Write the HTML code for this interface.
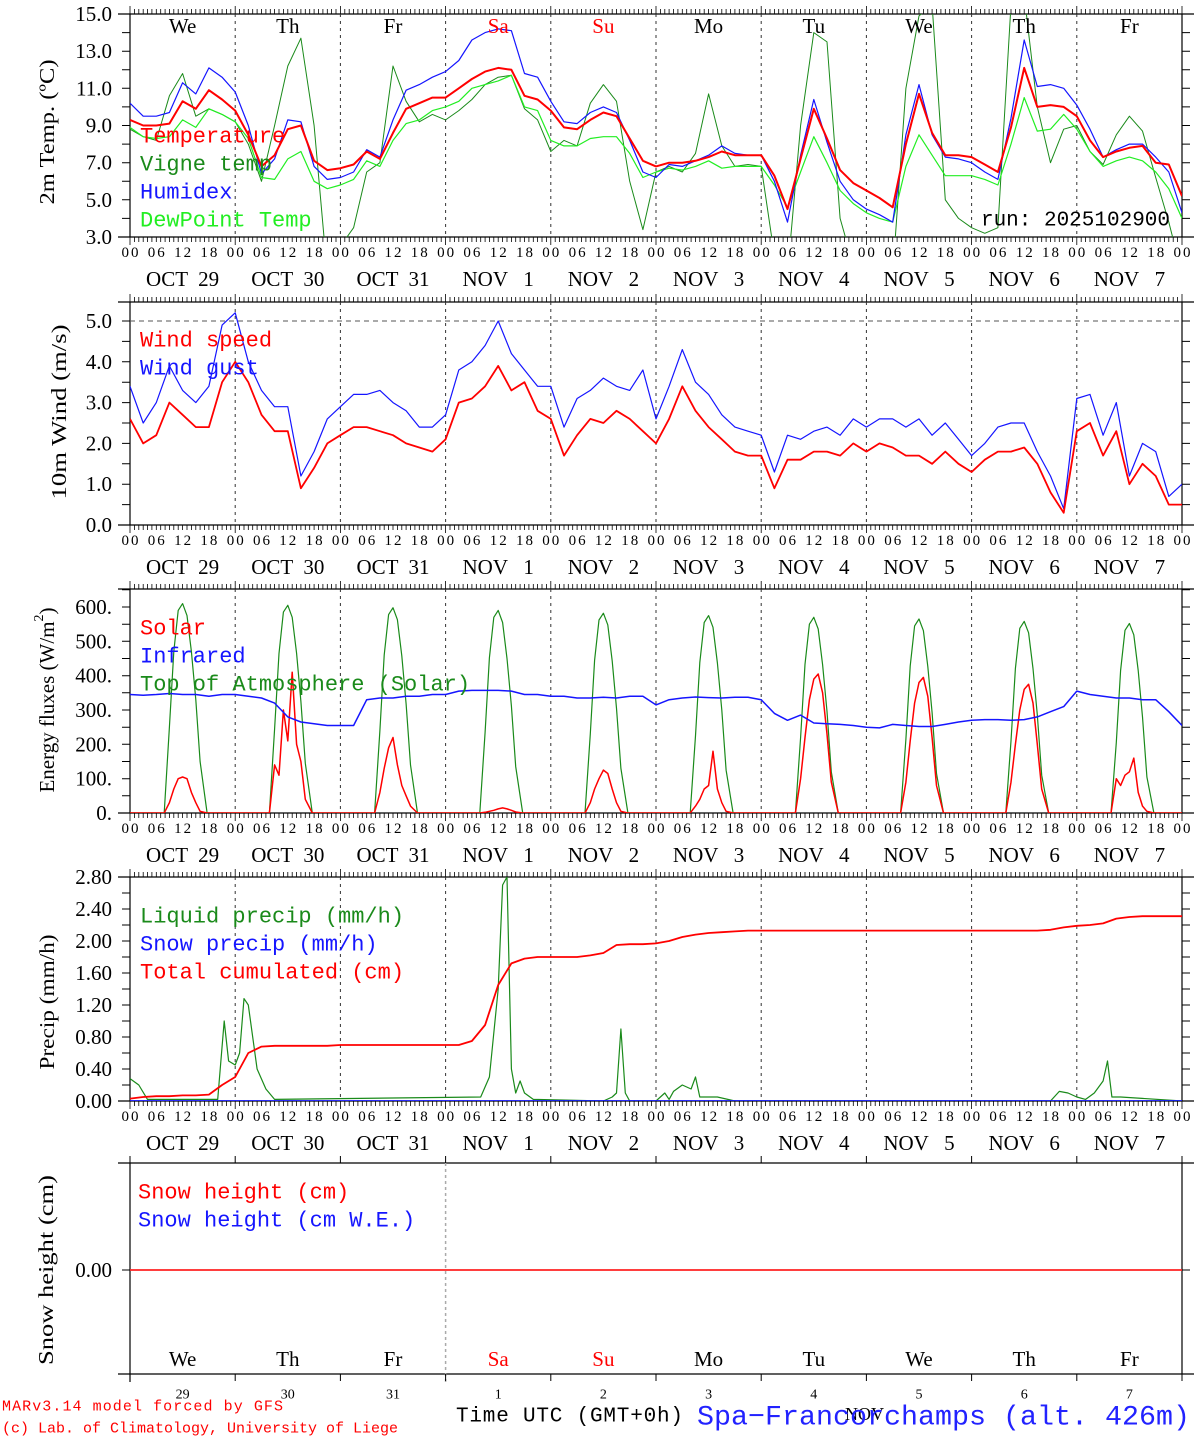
<!DOCTYPE html>
<html><head><meta charset="utf-8">
<style>
html,body{margin:0;padding:0;background:#fff;}
svg{display:block;}
text{font-family:"Liberation Serif",serif;}
.mono{font-family:"Liberation Mono","DejaVu Sans Mono",monospace;}
</style></head>
<body>
<svg id="chart" width="1194" height="1440" viewBox="0 0 1194 1440" xmlns="http://www.w3.org/2000/svg"></svg>
<script>
// ---- categories ----
const dayNames = ["We","Th","Fr","Sa","Su","Mo","Tu","We","Th","Fr"];
const dayColors = ["#000","#000","#000","#f00","#f00","#000","#000","#000","#000","#000"];
const dateLabels = ["OCT  29","OCT  30","OCT  31","NOV   1","NOV   2","NOV   3","NOV   4","NOV   5","NOV   6","NOV   7"];
const dayNums = ["29","30","31","1","2","3","4","5","6","7"];
const hourLabels = ["00","06","12","18"];
// 3-hourly time axis (hours since start)
const hours3 = [];
for (let i = 0; i <= 80; i++) hours3.push(i * 3);

// ---- panel 1: temperatures (3-hourly) ----
const tempVals = [9.3,9.0,9.0,9.1,10.3,9.9,10.9,10.4, 9.8,8.5,6.8,7.4,8.8,9.0,7.1,6.6, 6.7,6.9,7.6,7.2,8.6,9.9,10.2,10.5, 10.5,11.0,11.5,11.9,12.1,12.0,10.6,10.4, 9.8,8.9,8.8,9.3,9.7,9.5,8.3,7.1, 6.8,7.0,7.0,7.1,7.3,7.6,7.4,7.4, 7.4,6.3,4.5,7.2,9.9,8.3,6.6,5.9, 5.5,5.1,4.6,8.0,10.7,8.6,7.4,7.4, 7.3,6.9,6.5,8.9,12.1,10.0,10.1,10.0, 9.5,8.2,7.3,7.6,7.8,7.9,7.0,6.9,5.2];
const humidexVals = [10.2,9.5,9.5,9.7,11.3,10.7,12.1,11.6, 10.8,9.0,6.4,7.2,9.3,9.2,6.8,6.1, 6.2,6.5,7.7,7.3,9.3,10.9,11.2,11.6, 11.9,12.5,13.6,14.0,14.2,14.1,11.8,11.6, 10.3,9.2,9.1,9.7,10.0,9.7,8.2,6.5, 6.2,6.9,6.8,7.1,7.4,7.9,7.5,7.4, 7.4,6.0,3.8,7.4,10.4,8.1,6.0,5.0, 4.5,4.2,3.8,8.5,11.2,8.5,7.3,7.2, 7.0,6.5,6.1,9.4,13.6,11.1,11.2,11.0, 10.1,8.8,7.3,7.7,8.0,8.0,7.3,6.5,4.3];
const dewVals = [8.9,8.4,8.3,8.4,9.3,8.9,9.9,9.6, 9.2,8.3,6.2,6.1,7.2,7.6,6.0,5.6, 5.8,6.1,7.1,6.8,8.2,9.1,9.3,9.8, 10.0,10.3,11.0,11.2,11.4,11.7,10.0,9.8, 8.2,7.9,7.9,8.3,8.4,8.4,7.5,6.2, 6.5,6.7,6.6,6.8,7.1,6.7,6.8,6.8, 6.8,5.8,4.6,6.5,8.4,7.0,5.5,4.8, 4.3,4.0,3.8,6.8,8.5,7.4,6.3,6.3, 6.3,6.1,5.8,8.0,10.5,8.7,8.8,9.6, 8.8,7.6,6.8,7.1,7.3,7.1,6.5,5.6,4.0];
const vigneVals = [8.8,8.4,8.2,10.6,11.8,9.5,9.9,9.6, 9.2,8.0,6.0,9.0,12.2,13.7,9.0,1.0, 2.5,3.5,6.5,7.0,12.2,10.3,9.2,9.6, 9.3,9.8,10.4,11.2,11.6,11.7,9.9,9.3, 7.6,8.2,7.9,10.2,11.2,10.3,6.0,3.4, 6.5,6.8,6.5,7.5,10.7,7.9,6.8,6.9, 6.8,2.0,1.0,9.0,14.0,13.5,4.0,1.5, 1.0,0.5,1.0,11.0,14.9,15.5,5.0,4.0, 3.5,3.2,3.5,15.5,16.0,10.0,7.0,8.8, 9.0,7.6,6.9,8.5,9.5,8.7,6.2,3.8,1.0];
const p1Ticks = ["3.0","5.0","7.0","9.0","11.0","13.0","15.0"];

// ---- panel 2: wind (3-hourly) ----
const windVals = [2.6,2.0,2.2,3.0,2.7,2.4,2.4,3.5, 4.0,3.5,2.7,2.3,2.3,0.9,1.4,2.0, 2.2,2.4,2.4,2.3,2.2,2.0,1.9,1.8, 2.1,3.0,3.1,3.4,3.9,3.3,3.5,2.8, 2.6,1.7,2.2,2.6,2.5,2.8,2.6,2.3, 2.0,2.6,3.4,2.8,2.4,2.1,1.8,1.7, 1.7,0.9,1.6,1.6,1.8,1.8,1.7,2.0, 1.8,2.0,1.9,1.7,1.7,1.5,1.8,1.5, 1.3,1.6,1.8,1.8,1.9,1.5,0.8,0.3, 2.3,2.5,1.7,2.3,1.0,1.5,1.2,0.5,0.5];
const gustVals = [3.4,2.5,3.0,3.9,3.3,3.0,3.4,4.9, 5.2,4.0,3.3,2.9,2.9,1.2,1.8,2.6, 2.9,3.2,3.2,3.3,3.0,2.8,2.4,2.4, 2.7,3.8,4.0,4.4,5.0,4.2,3.8,3.4, 3.4,2.4,3.1,3.3,3.6,3.4,3.3,3.8, 2.6,3.4,4.3,3.5,3.2,2.7,2.4,2.3, 2.2,1.3,2.2,2.1,2.3,2.4,2.2,2.6, 2.4,2.6,2.6,2.4,2.6,2.2,2.5,2.1, 1.7,2.0,2.4,2.5,2.5,1.8,1.2,0.4, 3.1,3.2,2.2,3.0,1.2,2.0,1.8,0.7,1.0];
const p2Ticks = ["0.0","1.0","2.0","3.0","4.0","5.0"];

// ---- panel 3: energy fluxes ----
const sunHours = [7.8,9,10,11,12,13,14,15,16,17.6]; // hours within each day
const toaVals = [
 [0,250,470,590,610,575,470,330,150,0],[0,245,465,585,605,570,465,325,145,0],[0,240,460,578,598,563,458,318,140,0],
 [0,235,452,570,590,555,450,312,135,0],[0,230,445,562,582,548,443,305,130,0],[0,225,438,555,575,541,437,300,125,0],
 [0,220,433,550,570,536,432,296,120,0],[0,215,428,545,565,531,427,292,115,0],[0,210,421,538,558,525,421,286,110,0],
 [0,205,415,532,552,519,415,280,105,0]];
const solarVals = [
 [0,30,70,100,105,100,60,30,5,0],[0,140,110,300,210,410,200,150,40,0],[0,60,130,190,220,140,80,50,20,0],
 [0,2,5,8,12,15,12,8,3,0],[0,30,70,100,125,115,70,30,5,0],[0,20,40,70,80,180,70,30,5,0],
 [0,100,220,330,390,405,350,230,90,0],[0,90,210,320,380,395,340,220,80,0],[0,90,200,300,360,375,320,200,70,0],
 [0,100,80,110,120,160,60,20,5,0]];
const irVals = [345,343,345,348,345,345,340,345, 345,340,335,320,280,265,260,255, 255,255,330,335,335,340,340,345, 345,355,357,357,357,355,345,345, 340,340,335,335,337,335,340,340, 315,330,335,338,336,335,337,337, 330,290,270,285,262,260,258,255, 250,248,258,255,252,252,258,265, 270,272,272,270,272,280,295,310, 355,345,340,335,335,330,330,295,255];
const p3Ticks = ["0.","100.","200.","300.","400.","500.","600."];

// ---- panel 4: precipitation ----
const cumVals = [0.03,0.05,0.06,0.06,0.07,0.07,0.08,0.2, 0.3,0.6,0.68,0.69,0.69,0.69,0.69,0.69, 0.7,0.7,0.7,0.7,0.7,0.7,0.7,0.7, 0.7,0.7,0.75,0.95,1.45,1.72,1.78,1.8, 1.8,1.8,1.8,1.82,1.85,1.95,1.96,1.96, 1.97,2.0,2.05,2.08,2.1,2.11,2.12,2.13, 2.13,2.13,2.13,2.13,2.13,2.13,2.13,2.13, 2.13,2.13,2.13,2.13,2.13,2.13,2.13,2.13, 2.13,2.13,2.13,2.13,2.13,2.13,2.14,2.17, 2.19,2.2,2.22,2.28,2.3,2.31,2.31,2.31,2.31];
const liqHours = [0,2,4,20,21.5,22.5,24,25,26,27,29,31,33,80,82,84,85,86,87,88,89,90,92,108,110,111,112,113,114,120,122,123,124,126,128,129,130,134,138,210,212,214,216,218,220,222,223,224,226,240];
const liqVals  = [0.28,0.2,0.02,0.02,1.0,0.5,0.45,0.6,1.28,1.2,0.4,0.15,0.02,0.05,0.3,1.4,2.7,2.8,0.4,0.1,0.25,0.1,0.02,0,0.05,0.1,0.9,0.1,0,0,0.1,0.02,0.12,0.2,0.15,0.3,0.05,0.05,0,0,0.12,0.1,0.05,0.02,0.1,0.25,0.5,0.05,0.05,0];
const snowHours = [0,240];
const snowVals = [0,0];
const p4Ticks = ["0.00","0.40","0.80","1.20","1.60","2.00","2.40","2.80"];

// ---- panel 5: snow height ----
const snowHVals = [0,0];

const svg = document.getElementById('chart');
const NS = 'http://www.w3.org/2000/svg';
const X0 = 130, X1 = 1182;
function xs(h){ return X0 + h * (X1 - X0) / 240; }
function mk(tag, attrs, parent){
  const e = document.createElementNS(NS, tag);
  for (const k in attrs) e.setAttribute(k, attrs[k]);
  (parent || svg).appendChild(e);
  return e;
}
function txt(s, x, y, size, color, anchor, cls, parent){
  const t = mk('text', {x:x, y:y, 'font-size':size, fill:color||'#000', 'text-anchor':anchor||'start', 'dominant-baseline':'central'}, parent);
  if (cls) t.setAttribute('class', cls);
  t.textContent = s;
  return t;
}

const panels = [
  {id:'temp', top:14, bot:237, y:v=>237-(v-3)*(223/12)},
  {id:'wind', top:302, bot:525, y:v=>525-v*40.8},
  {id:'flux', top:589, bot:813, y:v=>813-v*(206/600)},
  {id:'precip', top:877, bot:1101, y:v=>1101-v*80},
  {id:'snow', top:1163, bot:1374, y:v=>1270-v*100}
];

panels.forEach((p, pi) => {
  const g = mk('g', {});
  
  
  const cp = mk('clipPath', {id:'clip'+pi}, g);
  mk('rect', {x:X0, y:p.top, width:X1-X0, height:p.bot-p.top}, cp);
  p.g = g; p.clip = 'url(#clip'+pi+')';
  let d = `M${X0-12},${p.top}H${X1+12}M${X0-12},${p.bot}H${X1+12}M${X0},${p.top}V${p.bot+ (pi==4?8:0)}M${X1},${p.top}V${p.bot}`;
  const fr = mk('path', {d:d, stroke:'#000', 'stroke-width':1.2, fill:'none'}, g);
  
  
  if (pi < 4) {
    let td = '';
    for (let h = 0; h <= 240; h++) {
      const x = xs(h);
      const L = (h % 24 === 0) ? 8 : 5;
      td += `M${x.toFixed(1)},${p.top}v-${L}M${x.toFixed(1)},${p.bot}v${L}`;
    }
    mk('path', {d:td, stroke:'#000', 'stroke-width':0.8, fill:'none'}, g);
    let dd = '';
    for (let k = 1; k < 10; k++) dd += `M${xs(k*24).toFixed(1)},${p.top}V${p.bot}`;
    const dl = mk('path', {d:dd, stroke:'#333', 'stroke-width':1, 'stroke-dasharray':'3,4', fill:'none'}, g);
    
    
    for (let k = 0; k <= 40; k++) {
      const t = txt(hourLabels[k%4], xs(k*6), p.bot+16, 15, '#000', 'middle', null, g);
      t.setAttribute('textLength', 17);
      
      
    }
    dateLabels.forEach((s, k) => {
      const t = txt(s, xs(k*24+12), p.bot+42, 21, '#000', 'middle', null, g);
      t.style.whiteSpace = 'pre';
      
      
    });
  }
});

function yAxis(p, labels, vals, minorStep, vmin, vmax){
  let d = '';
  for (let v = vmin; v <= vmax + 1e-9; v += minorStep) {
    const y = p.y(v);
    if (y < p.top - 1) continue;
    d += `M${X0-8},${y.toFixed(1)}H${X0}M${X1},${y.toFixed(1)}H${X1+8}`;
  }
  mk('path', {d:d, stroke:'#000', 'stroke-width':1, fill:'none'}, p.g);
  labels.forEach((s, i) => {
    const t = txt(s, 112, p.y(vals[i]), 21, '#000', 'end', null, p.g);
    
    
  });
}
yAxis(panels[0], p1Ticks, [3,5,7,9,11,13,15], 1, 3, 15);
yAxis(panels[1], p2Ticks, [0,1,2,3,4,5], 0.5, 0, 5.5);
yAxis(panels[2], p3Ticks, [0,100,200,300,400,500,600], 50, 0, 650);
yAxis(panels[3], p4Ticks, [0,0.4,0.8,1.2,1.6,2.0,2.4,2.8], 0.2, 0, 2.8);
yAxis(panels[4], ["0.00"], [0], 1, 0, 0);

function ytitle(s, cx, cy, p, len){
  const t = txt(s, 0, 0, 21, '#000', 'middle', null, p.g);
  t.setAttribute('transform', `translate(${cx},${cy}) rotate(-90)`);
  if (len) { t.setAttribute('textLength', len); t.setAttribute('lengthAdjust', 'spacingAndGlyphs'); }
  
  
  return t;
}
ytitle('2m Temp. (\u00baC)', 47, 132, panels[0], 145);
ytitle('10m Wind (m/s)', 59, 412, panels[1], 175);
const et = ytitle('', 47, 700, panels[2], 0);
et.textContent = 'Energy fluxes (W/m';
const sup = mk('tspan', {'baseline-shift':'super','font-size':14}, et); sup.textContent = '2';
const cl = mk('tspan', {}, et); cl.textContent = ')';
ytitle('Precip (mm/h)', 47, 1002, panels[3], 135);
ytitle('Snow height (cm)', 46, 1270, panels[4], 190);

mk('path', {d:`M${X0},${panels[1].y(5)}H${X1}`, stroke:'#555', 'stroke-dasharray':'5,4', 'stroke-width':1}, panels[1].g);

function line(p, hrs, vals, color, w, name){
  let d = '';
  vals.forEach((v, i) => { d += (i ? 'L' : 'M') + xs(hrs[i]).toFixed(1) + ',' + p.y(v).toFixed(1); });
  const e = mk('path', {d:d, stroke:color, 'stroke-width':w, fill:'none', 'clip-path':p.clip, 'stroke-linejoin':'round'}, p.g);
  
  
  return e;
}
function daySeries(dayArr){
  const h = [0], v = [0];
  dayArr.forEach((arr, k) => arr.forEach((val, j) => { h.push(k*24 + sunHours[j]); v.push(val); }));
  h.push(240); v.push(0);
  return [h, v];
}

line(panels[0], hours3, vigneVals, '#1a8a1a', 1, 'vigne-temp-line');
line(panels[0], hours3, dewVals, '#22ee22', 1.2, 'dewpoint-line');
line(panels[0], hours3, humidexVals, '#1515ff', 1.2, 'humidex-line');
line(panels[0], hours3, tempVals, '#ff0000', 2, 'temperature-line');
line(panels[1], hours3, gustVals, '#1515ff', 1.2, 'wind-gust-line');
line(panels[1], hours3, windVals, '#ff0000', 1.8, 'wind-speed-line');
const toa = daySeries(toaVals), sol = daySeries(solarVals);
line(panels[2], toa[0], toa[1], '#1a8a1a', 1.2, 'toa-solar-line');
line(panels[2], sol[0], sol[1], '#ff0000', 1.5, 'solar-line');
line(panels[2], hours3, irVals, '#1515ff', 1.5, 'infrared-line');
line(panels[3], liqHours, liqVals, '#1a8a1a', 1.2, 'liquid-precip-line');
line(panels[3], snowHours, snowVals, '#1515ff', 1.8, 'snow-precip-line');
line(panels[3], hours3, cumVals, '#ff0000', 1.8, 'cumulated-precip-line');
mk('path', {d:`M${xs(72)},${panels[4].top}V1384`, stroke:'#aaa', 'stroke-width':1.5, 'stroke-dasharray':'3,3'}, panels[4].g);
line(panels[4], snowHours, snowHVals, '#ff2222', 1.8, 'snow-height-line');
let bt = '';
for (let k = 0; k <= 10; k++) bt += `M${xs(k*24).toFixed(1)},1374v7M${xs(k*24).toFixed(1)},1163v-7`;
mk('path', {d:bt, stroke:'#000', 'stroke-width':1}, panels[4].g);

dayNames.forEach((s, k) => {
  const a = txt(s, xs(k*24+12), 26, 21, dayColors[k], 'middle', null, panels[0].g);
  
  
  const b = txt(s, xs(k*24+12), 1359, 21, dayColors[k], 'middle', null, panels[4].g);
  
  
  const c = txt(dayNums[k], xs(k*24+12), 1395, 14, '#000', 'middle', null, panels[4].g);
  
  
});

function legend(items, x, y0, step){
  items.forEach((it, i) => {
    const t = txt(it[0], x, y0 + i*step, 22, it[1], 'start', 'mono');
    
    
  });
}
legend([['Temperature','#ff0000'],['Vigne temp','#1a8a1a'],['Humidex','#1515ff'],['DewPoint Temp','#22ee22']], 140, 137, 28);
legend([['Wind speed','#ff0000'],['Wind gust','#1515ff']], 140, 341, 28);
legend([['Solar','#ff0000'],['Infrared','#1515ff'],['Top of Atmosphere (Solar)','#1a8a1a']], 140, 629, 28);
legend([['Liquid precip (mm/h)','#1a8a1a'],['Snow precip (mm/h)','#1515ff'],['Total cumulated (cm)','#ff0000']], 140, 917, 28);
legend([['Snow height (cm)','#ff0000'],['Snow height (cm W.E.)','#1515ff']], 138, 1193, 28);
const run = txt('run: 2025102900', 1170, 221, 21, '#000', 'end', 'mono');



const f1 = txt('MARv3.14 model forced by GFS', 2, 1407, 15, '#ff0000', 'start', 'mono');
f1.setAttribute('textLength', 281);


const f2 = txt('(c) Lab. of Climatology, University of Liege', 2, 1429, 15, '#ff0000', 'start', 'mono');
f2.setAttribute('textLength', 396);


const f3 = txt('Time UTC (GMT+0h)', 456, 1417, 21, '#000', 'start', 'mono');
f3.setAttribute('textLength', 227);


const f4 = txt('NOV', 845, 1414, 18, '#000', 'start');


const f5 = txt('Spa\u2212Francorchamps (alt. 426m)', 697, 1418, 28, '#2222ff', 'start', 'mono');
f5.setAttribute('textLength', 493);
f5.setAttribute('lengthAdjust', 'spacingAndGlyphs');


</script>
</body></html>
